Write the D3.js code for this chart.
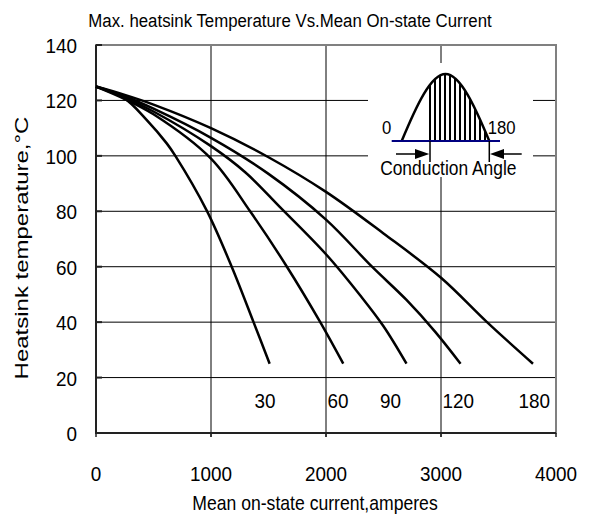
<!DOCTYPE html>
<html>
<head>
<meta charset="utf-8">
<script src="https://cdn.jsdelivr.net/npm/d3@7"></script>
<style>
    body { margin: 0; background: #fff; }
    text { font-family: "Liberation Sans", Arial, sans-serif; fill: #000; }
</style>
</head>
<body>
<svg width="591" height="520"></svg>
<script>
// axis ticks
const xTicks = [0, 1000, 2000, 3000, 4000]
const yTicks = [0, 20, 40, 60, 80, 100, 120, 140]

// conduction angle of each curve
const angles = ['30', '60', '90', '120', '180']

// [mean on-state current (A), max heatsink temperature (°C)]
const curve30 = [[0, 125], [240, 121], [440, 113], [615, 104.5], [690, 100], [960, 80.5], [1180, 60], [1370, 40], [1510, 25]]
const curve60 = [[0, 125], [250, 120.5], [500, 115], [1000, 99], [1340, 80], [1660, 60], [1950, 40], [2150, 25]]
const curve90 = [[0, 125], [250, 121], [500, 116], [1000, 103.5], [1300, 94], [1600, 81.5], [2000, 64.5], [2300, 49.5], [2500, 38.5], [2700, 25]]
const curve120 = [[0, 125], [250, 121.5], [500, 117], [1000, 106.5], [1500, 93.5], [2000, 77], [2400, 60], [2700, 48], [2950, 36.5], [3170, 25]]
const curve180 = [[0, 125], [250, 122], [500, 118.5], [1000, 110], [1500, 99.5], [2000, 87], [2500, 72], [3000, 56], [3400, 40], [3800, 25]]

// where the angle labels sit (current, temperature)
const labelCurrent = [1470, 2105, 2560, 3150, 3810]
const labelTemp = 12

let curves = [curve30, curve60, curve90, curve120, curve180]

let svg = d3.select('svg')
let x = d3.scaleLinear().domain([0, 4000]).range([96, 556])
let y = d3.scaleLinear().domain([0, 140]).range([433, 45])
let sx = 0.9 // the original text is drawn narrow

function addText(g, txt, px, py, size, anchor, scaleX, rotate) {
    return g.append('text')
        .attr('transform', 'translate(' + px + ',' + py + ') scale(' + scaleX + ',1)' + (rotate ? ' rotate(-90)' : ''))
        .attr('text-anchor', anchor)
        .attr('font-size', size)
        .text(txt)
}

// grid
svg.append('g').selectAll('line').data(yTicks.slice(1, -1)).enter().append('line')
    .attr('x1', x(0)).attr('x2', x(4000))
    .attr('y1', d => y(d)).attr('y2', d => y(d))
    .attr('stroke', '#000').attr('stroke-width', 1)
svg.append('g').selectAll('line').data(xTicks.slice(1, -1)).enter().append('line')
    .attr('x1', d => x(d)).attr('x2', d => x(d))
    .attr('y1', y(140)).attr('y2', y(0) + 4)
    .attr('stroke', '#000').attr('stroke-width', 1)

// frame
svg.append('rect')
    .attr('x', x(0)).attr('y', y(140))
    .attr('width', x(4000) - x(0)).attr('height', y(0) - y(140))
    .attr('fill', 'none').attr('stroke', '#808080').attr('stroke-width', 2)
svg.append('path')
    .attr('d', 'M' + x(0) + ',' + y(140) + 'V' + y(0) + 'H' + x(4000))
    .attr('fill', 'none').attr('stroke', '#222').attr('stroke-width', 2)

// small ticks on the axes
svg.append('g').selectAll('line').data(yTicks).enter().append('line')
    .attr('x1', x(0)).attr('x2', x(0) + 6)
    .attr('y1', d => y(d)).attr('y2', d => y(d))
    .attr('stroke', '#222').attr('stroke-width', 2)
svg.append('g').selectAll('line').data(xTicks).enter().append('line')
    .attr('x1', d => x(d)).attr('x2', d => x(d))
    .attr('y1', y(0)).attr('y2', y(0) + 4)
    .attr('stroke', '#222').attr('stroke-width', 1.5)

// tick labels
let tl = svg.append('g')
yTicks.forEach(d => addText(tl, d, 77, y(d) + 8, 21, 'end', sx))
xTicks.forEach(d => addText(tl, d, x(d), 481, 21, 'middle', sx))

// inset: half sine wave with conducting part hatched
let ins = svg.append('g').attr('transform', 'translate(368,63)')
ins.append('rect').attr('width', 165).attr('height', 114).attr('fill', '#fff')
let wave = 'M33.7,78C48.3,42.9 62.9,11 77.5,11C92.1,11 106.7,42.9 121.3,78'
ins.append('clipPath').attr('id', 'wave').append('path').attr('d', wave + 'Z')
ins.append('g').attr('clip-path', 'url(#wave)')
    .selectAll('line').data(d3.range(62, 120, 5)).enter().append('line')
    .attr('x1', d => d).attr('x2', d => d).attr('y1', 0).attr('y2', 78)
    .attr('stroke', '#000').attr('stroke-width', 2)
ins.append('path').attr('d', wave)
    .attr('fill', 'none').attr('stroke', '#000').attr('stroke-width', 2.5)
ins.append('line').attr('x1', 23.7).attr('x2', 132).attr('y1', 78).attr('y2', 78)
    .attr('stroke', '#000080').attr('stroke-width', 2)
ins.append('path').attr('d', 'M62,78V99M121.3,78V99M28,91H50M153.7,91H134')
    .attr('fill', 'none').attr('stroke', '#000').attr('stroke-width', 1.5)
ins.append('path').attr('d', 'M61.3,91L47,86L47,96ZM122,91L136,86L136,96Z').attr('fill', '#000')
addText(ins, '0', 18.7, 71, 19, 'middle', 0.88)
addText(ins, '180', 133.7, 71, 19, 'middle', 0.88)
addText(ins, 'Conduction Angle', 80.3, 112, 20, 'middle', 0.87)

// curves
let line = d3.line().x(d => x(d[0])).y(d => y(d[1])).curve(d3.curveCatmullRom.alpha(0.5))
svg.append('g').selectAll('path').data(curves).enter().append('path')
    .attr('d', line)
    .attr('fill', 'none').attr('stroke', '#000').attr('stroke-width', 2.5)

// angle labels
let al = svg.append('g')
angles.forEach((a, i) => addText(al, a, x(labelCurrent[i]), y(labelTemp) + 8, 21, 'middle', sx))

// titles
addText(svg, 'Max. heatsink Temperature Vs.Mean On-state Current', 290, 27, 19, 'middle', 0.885)
addText(svg, 'Mean on-state current,amperes', 315, 510, 20, 'middle', 0.88)
addText(svg, 'Heatsink temperature,°C', 28, 248, 24, 'middle', 0.8, true)
</script>
</body>
</html>
